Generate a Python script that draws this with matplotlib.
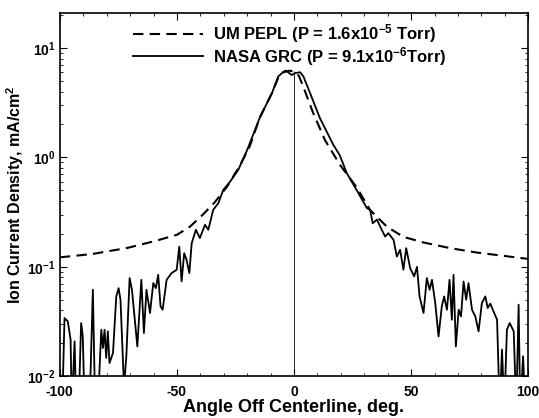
import numpy as np
import matplotlib
matplotlib.use('Agg')
import matplotlib.pyplot as plt

# Fonts: bold Arial-like everywhere, mathtext too
plt.rcParams['font.family'] = 'Liberation Sans'
plt.rcParams['font.weight'] = 'bold'
plt.rcParams['mathtext.fontset'] = 'custom'
plt.rcParams['mathtext.rm'] = 'Liberation Sans:bold'
plt.rcParams['mathtext.bf'] = 'Liberation Sans:bold'
plt.rcParams['mathtext.it'] = 'Liberation Sans:bold:italic'
plt.rcParams['axes.unicode_minus'] = False

# UM PEPL (dashed) profile
pepl_angle = [-100, -86, -71, -58.5, -50, -44.4, -38.9, -33.8, -28.6, -23, -19,
              -14.5, -9.4, -6.8, -4.5, -2, 0, 2, 4, 8, 13.2, 19.7, 26.8, 32.5,
              39.6, 46.6, 55.2, 66.7, 78, 89.4, 100]
pepl_j = [0.122, 0.131, 0.149, 0.174, 0.196, 0.233, 0.30, 0.39, 0.54, 0.85, 1.25,
          2.34, 3.88, 5.3, 6.0, 6.2, 6.1, 5.6, 4.4, 2.6, 1.44, 0.85, 0.53, 0.33,
          0.233, 0.188, 0.167, 0.148, 0.135, 0.126, 0.118]

# NASA GRC (solid) profile, values below 1e-2 fall off the axis
grc_angle = [-100, -99, -98, -96.6, -95.4, -94.9, -93.7, -93, -92, -90.9, -90.2,
             -89.4, -87.3, -85.9, -84.9, -83.8, -82.3, -81.6, -80.9, -80.2, -79.5,
             -78.8, -77.3, -75.9, -74.9, -74.1, -72.6, -71.6, -70.2, -69.2, -66.9,
             -65.2, -64.1, -63, -61.5, -60.1, -59, -58, -57, -56.1, -54.4, -52.3,
             -50.1, -49, -48, -46.9, -45.9, -44.7, -43.7, -41.9, -40.2, -38, -36.6,
             -34.5, -32.3, -30.2, -27.3, -23.8, -20, -14.5, -9.4, -6.8, -4.5, -3.4,
             -1, 0.5, 2.6, 4, 7, 11, 16.8, 19.5, 22.5, 26.8, 31.1, 32.5, 33.6, 35.4,
             36.8, 38.9, 40.3, 42.5, 43.9, 45.3, 46.7, 47.9, 49.6, 51.3, 52.5, 53.6,
             55.3, 56.7, 57.9, 58.9, 60.3, 61.7, 63.1, 64.1, 65.3, 66.4, 67.4, 68.1,
             69.1, 70.3, 71.3, 72.4, 73.5, 74.5, 76, 77.4, 78.8, 80.2, 81.7, 82.7,
             83.8, 85.5, 86.7, 87.8, 88.8, 89.8, 90.9, 92.1, 93.8, 94.9, 95.9, 96.6,
             97.8, 98.8, 100]
grc_j = [0.005, 0.005, 0.034, 0.0317, 0.0216, 0.005, 0.0208, 0.005, 0.005, 0.0306, 0.0231,
         0.005, 0.005, 0.0617, 0.005, 0.005, 0.0266, 0.0181, 0.0266, 0.0147, 0.0257,
         0.0132, 0.0163, 0.0536, 0.0638, 0.050, 0.008, 0.0152, 0.0789, 0.0617, 0.0187,
         0.076, 0.0248, 0.0617, 0.0378, 0.071, 0.0638, 0.0845, 0.0434, 0.0405, 0.076, 0.0875,
         0.094, 0.153, 0.0734, 0.133, 0.116, 0.0875, 0.164, 0.218, 0.183, 0.242, 0.218,
         0.332, 0.382, 0.505, 0.60, 0.77, 1.17, 2.34, 3.88, 5.47, 6.08, 6.2,
         5.66, 5.9, 6.0, 5.5, 3.8, 2.3, 1.3, 1.05, 0.72, 0.50, 0.344, 0.33, 0.25, 0.27,
         0.233, 0.189, 0.203, 0.176, 0.124, 0.143, 0.094, 0.148, 0.097, 0.0817, 0.10, 0.0536,
         0.0378, 0.0789, 0.0617, 0.076, 0.0466, 0.0231, 0.0434, 0.0536, 0.0405, 0.076, 0.0328, 0.0845,
         0.0187, 0.0405, 0.0352, 0.0734, 0.050, 0.071, 0.0405, 0.0352, 0.0257, 0.0466, 0.0536, 0.042,
         0.046, 0.0378, 0.0328, 0.005, 0.0175, 0.005, 0.0266, 0.0306, 0.0257, 0.005, 0.045, 0.005,
         0.0152, 0.005, 0.005]

ymin, ymax = 0.01, 20.9

fig = plt.figure(figsize=(5.39, 4.18), dpi=100)
ax = fig.add_axes([0.111, 0.100, 0.869, 0.869])

# centerline marker, stops at the peak (legend sits above it)
ax.vlines(0, ymin, max(pepl_j), color='black', lw=0.6)
ax.plot(pepl_angle, pepl_j, color='black', lw=1.5, ls=(0, (5, 3)),
        label='UM PEPL (P = 1.6x10$^{-5}$ Torr)')
ax.plot(grc_angle, grc_j, color='black', lw=1.3,
        label='NASA GRC (P = 9.1x10$^{-6}$Torr)')

ax.set_yscale('log')
ax.set_xlim(-100, 100)
ax.set_ylim(ymin, ymax)
ax.set_xticks([-100, -50, 0, 50, 100])
ax.set_xticks(np.arange(-100, 101, 10), minor=True)
ax.tick_params(which='both', direction='in', top=True, right=True, labelsize=10)
ax.tick_params(which='major', length=5)
ax.tick_params(which='minor', length=2.5)
ax.tick_params(axis='x', pad=6)
ax.tick_params(axis='y', pad=3)
for s in ax.spines.values():
    s.set_linewidth(1.2)

ax.set_xlabel('Angle Off Centerline, deg.', fontsize=13, fontweight='bold', labelpad=0)
ax.set_ylabel('Ion Current Density, mA/cm$^2$', fontsize=11.5, fontweight='bold', labelpad=1)

leg = ax.legend(loc='upper center', frameon=False, fontsize=12, handlelength=4.2,
                handletextpad=0.6, borderaxespad=0.15, labelspacing=0.0,
                bbox_to_anchor=(0.49, 1.0))

fig.savefig('out.png', dpi=100)
